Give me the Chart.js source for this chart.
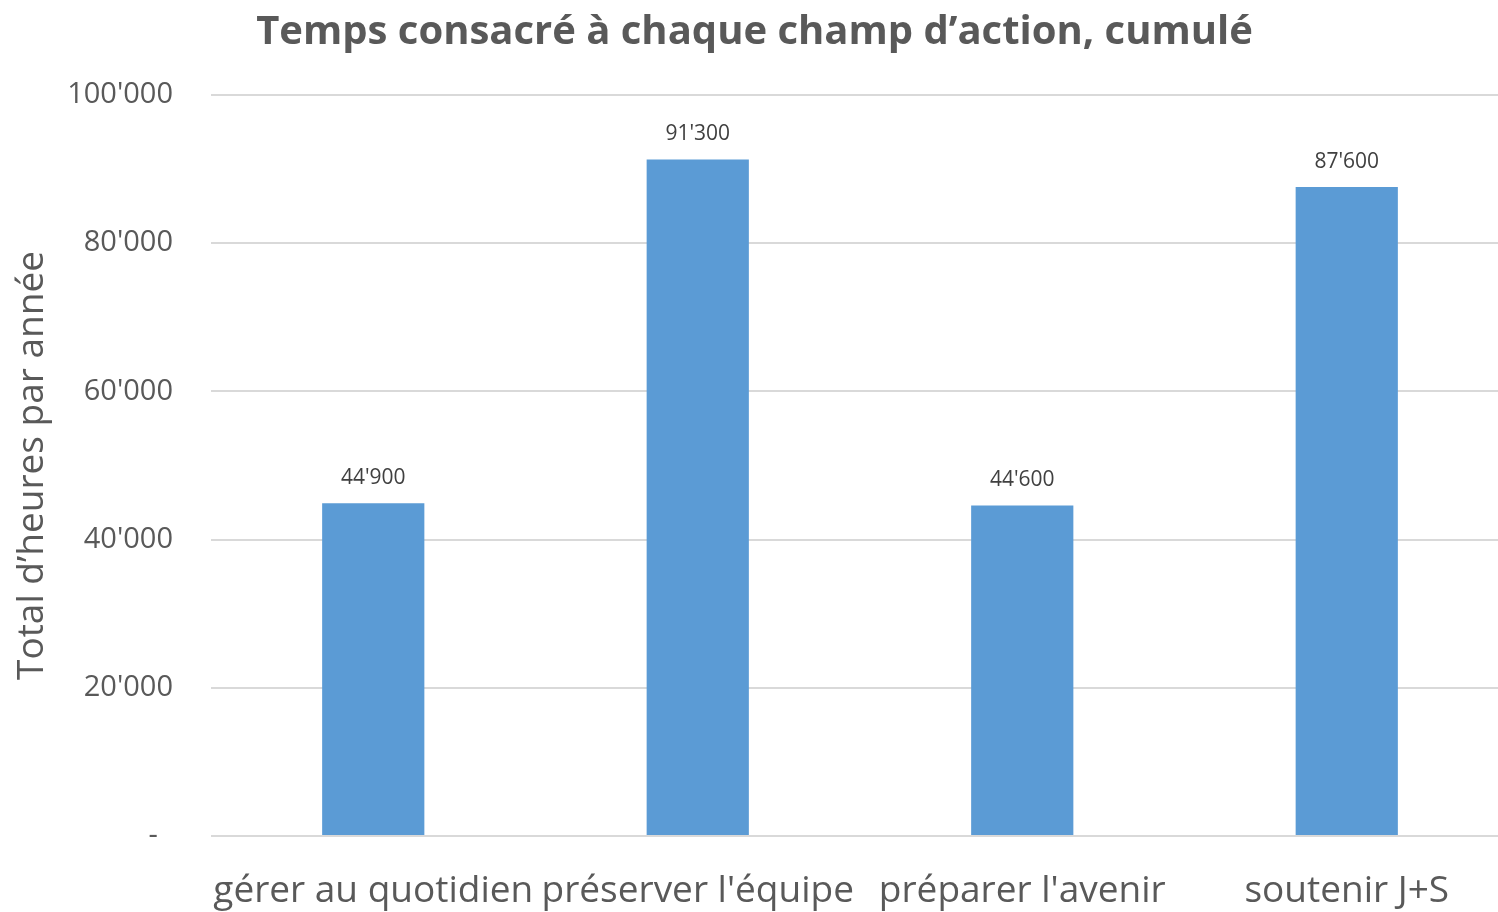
<!DOCTYPE html>
<html>
<head>
<meta charset="utf-8">
<script src="https://cdn.jsdelivr.net/npm/chart.js@4"></script>
<style>
  html, body { margin: 0; padding: 0; background: #fff; overflow: hidden; }
  /* plot runs a little past the right edge, like the original */
  #wrap { width: 1509px; height: 912px; }
</style>
</head>
<body>
<div id="wrap"><canvas id="champ-chart"></canvas></div>
<script>
const categories = ["gérer au quotidien", "préserver l'équipe", "préparer l'avenir", "soutenir J+S"];
const heures = [44900, 91300, 44600, 87600];
const yTicks = [0, 20000, 40000, 60000, 80000, 100000];

const fontFam = "'Open Sans', 'Noto Sans', sans-serif";
const grey = '#595959';

// 12345 -> 12'345
const fmt = (v) => String(v).replace(/\B(?=(\d{3})+(?!\d))/g, "'");

const valueLabels = {
  id: 'valueLabels',
  afterDatasetsDraw(chart) {
    const ctx = chart.ctx;
    ctx.save();
    ctx.font = "21px " + fontFam;
    ctx.fillStyle = '#404040';
    ctx.textAlign = 'center';
    ctx.textBaseline = 'middle';
    chart.getDatasetMeta(0).data.forEach((bar, i) => {
      ctx.fillText(fmt(heures[i]), bar.x, bar.y - 25);
    });
    ctx.restore();
  }
};

var ctx = document.getElementById('champ-chart').getContext('2d');
var myChart = new Chart(ctx, {
  type: 'bar',
  data: {
    labels: categories,
    datasets: [{
      data: heures,
      backgroundColor: '#5b9bd5',
      borderWidth: 0,
      barPercentage: 0.315,
      categoryPercentage: 1
    }]
  },
  options: {
    responsive: true,
    maintainAspectRatio: false,
    animation: false,
    layout: { padding: 0 },
    plugins: {
      legend: { display: false },
      tooltip: { enabled: false },
      title: {
        display: true,
        text: 'Temps consacré à chaque champ d’action, cumulé',
        color: grey,
        font: { family: fontFam, size: 40, weight: 'bold' },
        padding: { top: 9, bottom: 38 }
      }
    },
    scales: {
      x: {
        grid: { display: false, drawTicks: false },
        border: { display: false },
        ticks: {
          color: grey,
          font: { family: fontFam, size: 37 },
          padding: 33,
          maxRotation: 0,
          autoSkip: false
        },
        afterFit: (s) => { s.height = 76; }
      },
      y: {
        min: 0,
        max: 100000,
        afterBuildTicks: (s) => { s.ticks = yTicks.map(v => ({ value: v })); },
        grid: { color: '#d9d9d9', lineWidth: 2, drawTicks: false },
        border: { display: false },
        ticks: {
          color: grey,
          font: { family: fontFam, size: 29 },
          padding: 38,
          // zero shows as an accounting dash, set in from the right
          callback: (v) => v === 0 ? '-  ' : fmt(v)
        },
        title: {
          display: true,
          text: 'Total d’heures par année',
          color: grey,
          font: { family: fontFam, size: 37 },
          padding: { top: 10, bottom: 0 }
        },
        afterFit: (s) => { s.width = 211; }
      }
    }
  },
  plugins: [valueLabels]
});
</script>
</body>
</html>
